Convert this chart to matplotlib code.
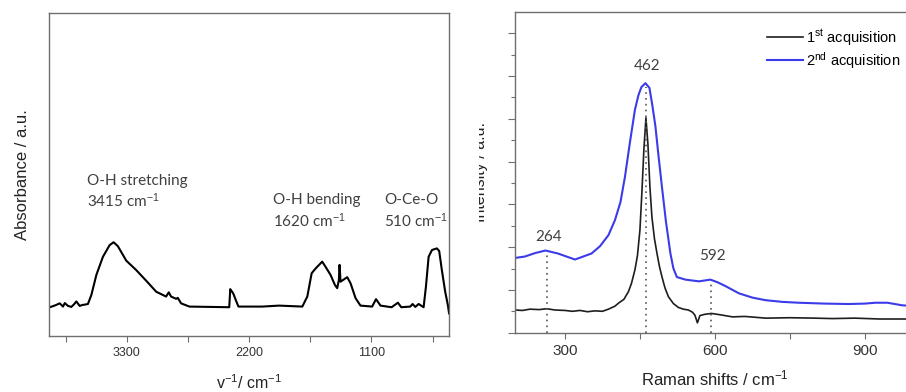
"""FTIR and Raman spectra of the ceria sample, side by side."""

import matplotlib as mpl
import matplotlib.pyplot as plt
from matplotlib.patches import Rectangle

mpl.use("Agg")

plt.rcParams["font.family"] = ["Liberation Sans", "DejaVu Sans"]
plt.rcParams["mathtext.fontset"] = "custom"
plt.rcParams["mathtext.rm"] = "Liberation Sans"
plt.rcParams["mathtext.it"] = "Liberation Sans:italic"

# ── FTIR (left) ────────────────────────────────────────────────────────────
ir_wavenumber = [
    3993, 3950, 3903, 3874, 3858, 3829, 3799, 3775, 3754, 3724, 3700, 3679,
    3650, 3619, 3574, 3515, 3455, 3419, 3381, 3305, 3216, 3126, 3036, 2947,
    2923, 2902, 2857, 2842, 2812, 2738, 2379, 2370, 2362, 2355, 2341, 2319,
    2296, 2082, 1931, 1722, 1677, 1638, 1602, 1557, 1543, 1513, 1468, 1429,
    1408, 1393, 1387, 1378, 1348, 1318, 1288, 1243, 1199, 1094, 1059, 1019,
    919, 862, 832, 751, 730, 706, 676, 631, 610, 586, 556, 512, 491, 467,
    437, 413, 402,
]
ir_absorbance = [
    0.089, 0.094, 0.101, 0.091, 0.102, 0.093, 0.090, 0.098, 0.107, 0.093,
    0.096, 0.097, 0.099, 0.127, 0.189, 0.245, 0.281, 0.290, 0.278, 0.233,
    0.204, 0.171, 0.137, 0.122, 0.135, 0.122, 0.115, 0.118, 0.101, 0.091,
    0.089, 0.145, 0.140, 0.138, 0.130, 0.110, 0.091, 0.091, 0.094, 0.091,
    0.122, 0.194, 0.209, 0.225, 0.230, 0.214, 0.189, 0.158, 0.148, 0.173,
    0.220, 0.168, 0.175, 0.182, 0.163, 0.117, 0.094, 0.091, 0.114, 0.094,
    0.089, 0.103, 0.089, 0.091, 0.099, 0.090, 0.099, 0.089, 0.153, 0.245,
    0.266, 0.271, 0.263, 0.204, 0.137, 0.096, 0.070,
]
ir_bands = ["O-H stretching\n3415 cm$^{-1}$", "O-H bending\n1620 cm$^{-1}$",
            "O-Ce-O\n510 cm$^{-1}$"]
ir_band_pos = [(3662, 0.445), (1989, 0.385), (988, 0.385)]
ir_ticks = [3300, 2200, 1100]
ir_minor_ticks = [3850, 2750, 1650, 550]

# ── Raman (right) ──────────────────────────────────────────────────────────
raman_shift_1 = [
    200, 215, 230, 248, 264, 280, 300, 315, 330, 345, 360, 375, 387, 400,
    407, 418, 427, 433, 440, 445, 450, 454, 458, 462, 466, 470, 474, 479,
    484, 489, 494, 500, 507, 517, 527, 537, 547, 555, 560, 565, 570, 580,
    593, 610, 635, 660, 702, 750, 800, 835, 880, 930, 975, 1000,
]
raman_int_1 = [
    0.53, 0.52, 0.55, 0.54, 0.56, 0.53, 0.52, 0.50, 0.52, 0.49, 0.51, 0.50,
    0.55, 0.62, 0.69, 0.78, 0.96, 1.15, 1.47, 1.80, 2.40, 3.30, 4.30, 5.02,
    4.40, 3.40, 2.70, 2.20, 1.86, 1.55, 1.31, 1.05, 0.84, 0.68, 0.59, 0.55,
    0.53, 0.48, 0.41, 0.23, 0.40, 0.43, 0.45, 0.42, 0.37, 0.38, 0.34, 0.35,
    0.34, 0.33, 0.34, 0.32, 0.32, 0.32,
]
raman_shift_2 = [
    196, 220, 240, 261, 286, 320, 353, 370, 387, 400, 411, 420, 430, 440,
    447, 453, 461, 469, 475, 481, 487, 494, 502, 511, 517, 524, 541, 568,
    591, 605, 621, 648, 675, 701, 735, 768, 820, 868, 900, 921, 945, 975,
    1000,
]
raman_int_2 = [
    1.74, 1.78, 1.86, 1.92, 1.85, 1.71, 1.85, 2.02, 2.28, 2.63, 3.05, 3.64,
    4.45, 5.21, 5.55, 5.74, 5.83, 5.72, 5.30, 4.82, 4.15, 3.41, 2.60, 1.85,
    1.50, 1.30, 1.24, 1.20, 1.24, 1.18, 1.09, 0.92, 0.82, 0.76, 0.72, 0.70,
    0.68, 0.67, 0.68, 0.70, 0.70, 0.64, 0.62,
]
raman_labels = ["1$^{\\mathrm{st}}$ acquisition", "2$^{\\mathrm{nd}}$ acquisition"]
raman_peaks = [264, 462, 592]
raman_peak_tops = [1.88, 5.74, 1.18]
raman_peak_text_y = [2.23, 6.22, 1.79]
raman_ticks = [300, 600, 900]
raman_minor_ticks = [450, 750]

TEXT_GRAY = "#404040"
SPINE_GRAY = "#6e6e6e"

fig = plt.figure(figsize=(9.06, 3.92), dpi=100)

# Left panel: FTIR
ax1 = fig.add_axes([49 / 906, 1 - 336 / 392, 400.3 / 906, 323.3 / 392])
ax1.plot(ir_wavenumber, ir_absorbance, color="black", linewidth=1.5)
ax1.set_xlim(4000, 400)
ax1.set_ylim(0, 1)
ax1.set_xticks(ir_ticks)
ax1.set_xticks(ir_minor_ticks, minor=True)
ax1.set_yticks([])
ax1.tick_params(axis="x", which="both", direction="out", length=4, width=0.8,
                color=SPINE_GRAY, labelsize=9, labelcolor="#333333", pad=4)
for s in ax1.spines.values():
    s.set_color(SPINE_GRAY)
    s.set_linewidth(1.0)
ax1.set_xlabel("v$^{-1}$/ cm$^{-1}$", fontsize=11.5, color="#222222", labelpad=10)
ax1.set_ylabel("Absorbance / a.u.", fontsize=12, color="#222222", labelpad=14)
for txt, (x, y) in zip(ir_bands, ir_band_pos):
    ax1.text(x, y, txt, fontsize=11, family=["Lato", "DejaVu Sans"],
             color=TEXT_GRAY, ha="left", va="center", linespacing=1.25)

# Right panel: Raman
ax2 = fig.add_axes([515 / 906, 1 - 332.7 / 392, 399.8 / 906, 321 / 392])
ax2.plot(raman_shift_1, raman_int_1, color="#1e1e1e", linewidth=1.2,
         label=raman_labels[0])
ax2.plot(raman_shift_2, raman_int_2, color="#3b3bea", linewidth=1.5,
         label=raman_labels[1])
for x, top, ty in zip(raman_peaks, raman_peak_tops, raman_peak_text_y):
    ax2.plot([x, x], [0, top], linestyle=(0, (1, 2.5)), color="#555555",
             linewidth=1.2)
    ax2.text(x + 3, ty, str(x), fontsize=11, family=["Lato", "DejaVu Sans"],
             color=TEXT_GRAY, ha="center", va="center")
ax2.set_xlim(200, 1000)
ax2.set_ylim(0, 7.5)
ax2.set_xticks(raman_ticks)
ax2.set_xticks(raman_minor_ticks, minor=True)
ax2.set_yticks(range(0, 8))
ax2.set_yticks([i + 0.5 for i in range(0, 7)], minor=True)
ax2.set_yticklabels([])
ax2.tick_params(axis="x", which="both", direction="out", length=4, width=0.8,
                color=SPINE_GRAY, labelsize=11, labelcolor="#333333", pad=4)
ax2.tick_params(axis="y", which="major", direction="out", length=5, width=0.8,
                color=SPINE_GRAY)
ax2.tick_params(axis="y", which="minor", direction="out", length=3, width=0.8,
                color=SPINE_GRAY)
for s in ax2.spines.values():
    s.set_color(SPINE_GRAY)
    s.set_linewidth(1.0)
ax2.set_xlabel("Raman shifts / cm$^{-1}$", fontsize=12, color="#222222",
               labelpad=8)
lbl = ax2.set_ylabel("Intensity / a.u.", fontsize=11.5, color="#222222")
ax2.yaxis.set_label_coords(-0.0675, 0.5)
# the label is cut off on its left side in the source figure
lbl.set_clip_path(Rectangle((479 / 906, 0), 1, 1, transform=fig.transFigure))

ax2.legend(loc="upper left", bbox_to_anchor=(767 / 906, 1 - 27 / 392),
           bbox_transform=fig.transFigure, frameon=False, fontsize=10.5,
           handlelength=2.5, handletextpad=0.2, labelspacing=0.15,
           borderpad=0, borderaxespad=0)

fig.savefig("out.png", dpi=100)
